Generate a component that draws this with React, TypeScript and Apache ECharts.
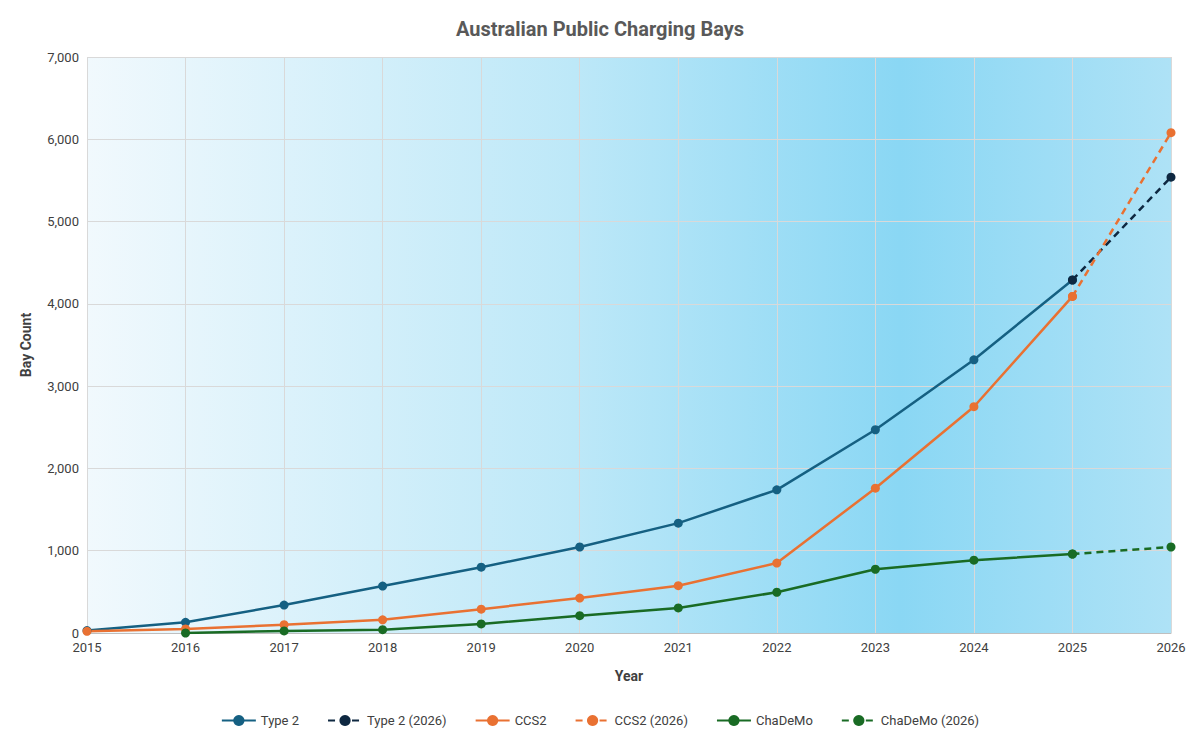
import { useEffect, useRef } from "react";
import * as echarts from "echarts";

const years = ["2015","2016","2017","2018","2019","2020","2021","2022","2023","2024","2025","2026"];
const type2 = [30, 130, 340, 570, 800, 1045, 1335, 1740, 2470, 3320, 4290, null];
const type2Fc = [null, null, null, null, null, null, null, null, null, null, 4290, 5540];
const ccs2 = [20, 50, 100, 160, 290, 425, 575, 850, 1760, 2750, 4090, null];
const ccs2Fc = [null, null, null, null, null, null, null, null, null, null, 4090, 6080];
const chademo = [null, 0, 25, 40, 110, 210, 305, 495, 775, 885, 960, null];
const chademoFc = [null, null, null, null, null, null, null, null, null, null, 960, 1045];

export default function App() {
  const ref = useRef<HTMLDivElement>(null);

  useEffect(() => {
    if (!ref.current) return;
    const chart = echarts.init(ref.current, null, { renderer: "svg" });
    const line = (name: string, data: any[], color: string, dashed: boolean, z: number) => ({
      name,
      type: "line",
      data,
      z,
      symbol: "circle",
      symbolSize: 9,
      connectNulls: false,
      lineStyle: { color: dashed ? color : color, width: 2.5, type: dashed ? [7, 5] : "solid" },
      itemStyle: { color },
    });
    chart.setOption({
      animation: false,
      title: {
        text: "Australian Public Charging Bays",
        left: "center",
        top: 6,
        textStyle: { fontFamily: "Roboto", fontSize: 20, fontWeight: "bold", color: "#595959" },
      },
      legend: {
        bottom: 4,
        itemWidth: 34,
        itemGap: 28,
        textStyle: { fontFamily: "Roboto", fontSize: 13, color: "#404040" },
      },
      grid: {
        left: 79,
        right: 21,
        top: 49,
        bottom: 103,
        show: true,
        borderWidth: 0,
        backgroundColor: new echarts.graphic.LinearGradient(0, 0, 1, 0, [
          { offset: 0, color: "#f1f9fd" },
          { offset: 0.45, color: "#bde8f8" },
          { offset: 0.75, color: "#8ad7f4" },
          { offset: 1, color: "#aee2f6" },
        ]),
      },
      xAxis: {
        type: "category",
        data: years,
        boundaryGap: false,
        name: "Year",
        nameLocation: "middle",
        nameGap: 36,
        nameTextStyle: { fontFamily: "Roboto", fontSize: 14, fontWeight: "bold", color: "#404040" },
        axisLine: { lineStyle: { color: "#bfbfbf" } },
        axisTick: { show: false },
        axisLabel: { fontFamily: "Roboto", fontSize: 13, color: "#404040" },
        splitLine: { show: true, lineStyle: { color: "#d9d9d9" } },
      },
      yAxis: {
        type: "value",
        min: 0,
        max: 7000,
        interval: 1000,
        name: "Bay Count",
        nameLocation: "middle",
        nameGap: 54,
        nameTextStyle: { fontFamily: "Roboto", fontSize: 14, fontWeight: "bold", color: "#404040" },
        axisLabel: { fontFamily: "Roboto", fontSize: 13, color: "#404040" },
        splitLine: { lineStyle: { color: "#d9d9d9" } },
      },
      series: [
        line("Type 2", type2, "#156082", false, 3),
        line("Type 2 (2026)", type2Fc, "#0e2841", true, 4),
        line("CCS2", ccs2, "#e97132", false, 3),
        line("CCS2 (2026)", ccs2Fc, "#e97132", true, 4),
        line("ChaDeMo", chademo, "#196b24", false, 3),
        line("ChaDeMo (2026)", chademoFc, "#196b24", true, 4),
      ],
    });
    return () => chart.dispose();
  }, []);

  return <div ref={ref} style={{ width: 1184, height: 728 }} />;
}
